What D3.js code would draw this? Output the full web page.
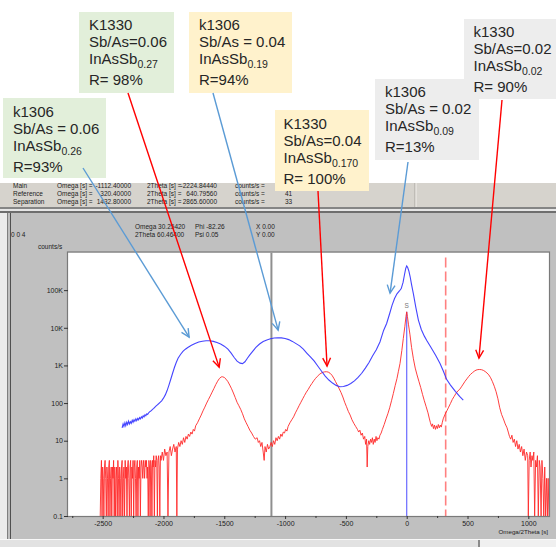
<!DOCTYPE html>
<html><head><meta charset="utf-8">
<script src="https://cdn.jsdelivr.net/npm/d3@7"></script>
<style>body{margin:0;background:#fff}svg{display:block}</style>
</head><body><svg id="c" width="556" height="547"></svg>
<script>
// ---------- DATA ----------
const k1330Profile = [[-2520,0],[-2515,1],[-2510,3],[-2505,0],[-2500,2],[-2495,1],[-2490,0],[-2485,2],[-2480,3],[-2475,1],[-2470,0],[-2465,2],[-2460,1],[-2455,0],[-2450,2],[-2445,3],[-2440,0],[-2435,1],[-2430,2],[-2425,0],[-2420,2],[-2415,1],[-2410,3],[-2405,0],[-2400,2],[-2395,0],[-2390,1],[-2385,2],[-2380,0],[-2375,3],[-2370,1],[-2365,0],[-2360,2],[-2355,1],[-2350,0],[-2345,2],[-2340,3],[-2335,0],[-2330,1],[-2325,2],[-2320,0],[-2315,3],[-2310,1],[-2305,2],[-2300,0],[-2295,2],[-2290,3],[-2285,1],[-2280,0],[-2275,2],[-2270,3],[-2265,0],[-2260,2],[-2255,1],[-2250,3],[-2245,0],[-2240,2],[-2235,3],[-2230,1],[-2225,0],[-2220,2],[-2215,3],[-2210,0],[-2205,2],[-2200,1],[-2195,3],[-2190,0],[-2185,2],[-2180,3],[-2175,2],[-2170,1],[-2165,3],[-2160,2],[-2155,1],[-2150,3],[-2145,2],[-2140,3],[-2135,1],[-2130,2],[-2125,0],[-2120,3],[-2115,2],[-2110,0],[-2105,3],[-2100,2],[-2095,0],[-2090,3],[-2085,2],[-2080,4],[-2075,0],[-2070,3],[-2065,2],[-2060,4],[-2055,3],[-2050,0],[-2045,3],[-2040,4],[-2035,2],[-2030,0],[-2025,4],[-2020,3],[-2010,5],[-2000,3],[-1990,6],[-1980,4],[-1970,5],[-1963,0],[-1955,5],[-1945,7],[-1935,4],[-1925,6],[-1915,8],[-1905,5],[-1895,7],[-1890,0],[-1885,6],[-1875,9],[-1865,7],[-1855,10],[-1845,8],[-1835,12],[-1825,9],[-1815,13],[-1805,11],[-1795,15],[-1785,13],[-1775,17],[-1765,15],[-1755,20],[-1745,18],[-1735,25],[-1720,30],[-1705,38],[-1690,48],[-1675,62],[-1660,78],[-1645,100],[-1630,125],[-1615,155],[-1600,195],[-1585,245],[-1570,310],[-1555,380],[-1540,450],[-1525,495],[-1515,500],[-1500,480],[-1485,430],[-1470,370],[-1455,300],[-1440,240],[-1425,185],[-1410,140],[-1395,105],[-1380,85],[-1365,68],[-1350,52],[-1335,38],[-1320,30],[-1305,24],[-1290,19],[-1275,16],[-1260,13],[-1245,11],[-1230,12],[-1220,9],[-1210,10],[-1200,7],[-1190,9],[-1180,5],[-1172,3],[-1165,7],[-1155,5],[-1145,8],[-1135,6],[-1125,7],[-1115,9],[-1105,7],[-1095,10],[-1085,8],[-1075,12],[-1065,10],[-1055,13],[-1045,11],[-1035,15],[-1025,13],[-1015,17],[-1005,16],[-995,20],[-985,18],[-975,24],[-960,30],[-945,36],[-930,43],[-915,55],[-900,68],[-885,85],[-870,105],[-855,130],[-840,160],[-825,195],[-810,230],[-795,280],[-780,330],[-765,390],[-750,450],[-735,510],[-720,570],[-705,620],[-690,655],[-675,675],[-660,680],[-645,665],[-630,620],[-615,550],[-600,460],[-585,370],[-570,300],[-555,240],[-540,190],[-525,145],[-510,105],[-495,80],[-480,60],[-465,48],[-450,36],[-435,29],[-420,24],[-405,20],[-395,17],[-385,19],[-375,14],[-365,16],[-355,11],[-345,13],[-338,8],[-330,11],[-325,2],[-320,7],[-312,10],[-305,8],[-297,11],[-290,9],[-282,12],[-275,8],[-267,11],[-260,9],[-252,13],[-245,10],[-237,12],[-228,11],[-220,14],[-210,16],[-200,20],[-185,27],[-170,38],[-155,52],[-140,75],[-125,115],[-110,180],[-95,290],[-80,450],[-68,700],[-55,1130],[-40,2500],[-28,5200],[-15,11000],[-6,20000],[0,26500],[6,20000],[15,12000],[27,6500],[40,3000],[55,1500],[70,850],[85,560],[100,380],[115,260],[130,170],[145,115],[160,80],[175,55],[185,40],[195,30],[205,24],[212,28],[220,21],[228,26],[236,20],[244,25],[252,21],[260,27],[268,22],[276,26],[284,23],[292,30],[300,38],[315,50],[330,62],[345,78],[360,98],[375,125],[390,150],[405,180],[420,210],[435,230],[450,270],[465,320],[480,380],[495,440],[510,510],[525,580],[540,640],[555,700],[570,750],[585,775],[600,780],[615,770],[630,740],[645,690],[660,630],[675,560],[690,470],[705,370],[720,280],[735,200],[750,130],[765,75],[780,50],[795,38],[810,28],[825,22],[835,17],[845,13],[855,11],[865,14],[875,9],[885,11],[895,7],[905,10],[915,6],[925,8],[935,5],[945,7],[955,4],[965,6],[975,3],[985,5],[995,4],[1000,0],[1007,3],[1015,5],[1022,2],[1030,4],[1037,3],[1045,5],[1052,0],[1060,3],[1067,2],[1075,4],[1082,0],[1090,3],[1097,2],[1105,0],[1112,3],[1120,1],[1127,0],[1135,2],[1142,0],[1150,1],[1157,0],[1163,1],[1170,0]];

const k1306Profile = [[-2340,22],[-2332,28],[-2325,24],[-2317,30],[-2310,25],[-2302,31],[-2295,27],[-2287,33],[-2280,28],[-2272,32],[-2265,29],[-2257,35],[-2250,31],[-2242,36],[-2235,33],[-2227,38],[-2220,34],[-2212,39],[-2205,36],[-2197,41],[-2190,38],[-2182,43],[-2175,40],[-2167,46],[-2160,43],[-2152,49],[-2145,46],[-2137,52],[-2130,50],[-2120,56],[-2110,60],[-2100,63],[-2090,68],[-2080,72],[-2070,78],[-2060,84],[-2050,90],[-2040,96],[-2030,103],[-2015,115],[-2000,135],[-1985,165],[-1970,215],[-1955,300],[-1940,430],[-1925,620],[-1910,880],[-1895,1200],[-1880,1550],[-1860,1950],[-1840,2350],[-1820,2700],[-1800,3000],[-1770,3450],[-1740,3850],[-1710,4200],[-1680,4400],[-1650,4520],[-1620,4520],[-1590,4350],[-1560,4050],[-1530,3700],[-1500,3250],[-1470,2700],[-1445,2150],[-1420,1650],[-1395,1300],[-1370,1150],[-1350,1120],[-1330,1250],[-1310,1550],[-1290,1900],[-1265,2400],[-1240,3000],[-1210,3700],[-1180,4300],[-1150,4750],[-1120,5100],[-1090,5350],[-1060,5450],[-1030,5400],[-1000,5200],[-970,4850],[-940,4350],[-910,3800],[-880,3300],[-850,2700],[-820,2100],[-790,1650],[-760,1300],[-730,950],[-700,700],[-670,520],[-640,410],[-610,340],[-580,295],[-550,272],[-520,275],[-490,295],[-460,330],[-430,390],[-400,480],[-370,620],[-340,850],[-310,1200],[-280,1800],[-250,2600],[-220,4200],[-190,8500],[-165,13000],[-140,24000],[-120,40000],[-100,60000],[-80,80000],[-60,95000],[-45,110000],[-30,160000],[-18,260000],[-8,380000],[0,440000],[8,400000],[18,320000],[28,230000],[40,140000],[55,80000],[75,35000],[96,16000],[120,9000],[145,6000],[165,4600],[200,3000],[240,1800],[274,1130],[300,720],[329,420],[360,300],[400,205],[435,150],[465,120]];

const xTickValues = [-2500,-2000,-1500,-1000,-500,0,500,1000];
const xMinorTicks = [-2750,-2250,-1750,-1250,-750,-250,250,750];
const yTickValues = [0.1,1,10,100,1000,10000,100000];
const yTickLabels = ["0.1","1","10","100","1K","10K","100K"];
const mainOmega = -1112.4;
const refOmega = 320.4;
const substratePeak = [0, 26500];
const infoLabels = ["Main","Reference","Separation"];
const infoOmega = ["-1112.40000","320.40000","1432.80000"];
const info2Theta = ["-2224.84440","640.79560","2865.60000"];
const infoCounts = ["","41","33"];

const annotations = [
  {lines:["k1306","Sb/As = 0.06","InAsSb","R=93%"], sub:"0.26", kind:"green", arrow:"blue", tip:[-1789,5650]},
  {lines:["K1330","Sb/As=0.06","InAsSb","R= 98%"], sub:"0.27", kind:"green", arrow:"red", tip:[-1542,900]},
  {lines:["k1306","Sb/As = 0.04","InAsSb","R=94%"], sub:"0.19", kind:"orange", arrow:"blue", tip:[-1057,8670]},
  {lines:["K1330","Sb/As=0.04","InAsSb","R= 100%"], sub:"0.170", kind:"orange", arrow:"red", tip:[-655,960]},
  {lines:["k1306","Sb/As = 0.02","InAsSb","R=13%"], sub:"0.09", kind:"gray", arrow:"blue", tip:[-137,83000]},
  {lines:["k1330","Sb/As=0.02","InAsSb","R= 90%"], sub:"0.02", kind:"gray", arrow:"red", tip:[594,1560]}
];

// ---------- LAYOUT ----------
const boxLayout = [
  {x:3,y:98,w:103,h:80,tx:13,ty:116.5, sx:83,sy:168},
  {x:79,y:12,w:95,h:81,tx:89,ty:30, sx:128,sy:93},
  {x:189,y:12,w:103,h:81,tx:199,ty:30, sx:213,sy:93},
  {x:275,y:110,w:94,h:81,tx:283.5,ty:128.5, sx:318,sy:191},
  {x:375,y:79,w:104,h:81,tx:385,ty:97, sx:408,sy:162},
  {x:464,y:19,w:92,h:80,tx:473.5,ty:37, sx:502,sy:100}
];
const boxFill = {green:"#e2efda", orange:"#fff2cc", gray:"#ededed"};
const arrowColor = {blue:"#5b9bd5", red:"#ff0000"};

const svg = d3.select("#c");
const uiFont = "'Liberation Sans', Arial, sans-serif";

// window chrome
svg.append("rect").attr("x",0).attr("y",183).attr("width",556).attr("height",24).attr("fill","#d6d3cd");
svg.append("line").attr("x1",415).attr("x2",415).attr("y1",183).attr("y2",207).attr("stroke","#a8a59f");
svg.append("line").attr("x1",416).attr("x2",416).attr("y1",183).attr("y2",207).attr("stroke","#f2f0ec");
svg.append("rect").attr("x",0).attr("y",207).attr("width",556).attr("height",333).attr("fill","#c0c0c0");
svg.append("rect").attr("x",0).attr("y",207).attr("width",556).attr("height",2).attr("fill","#858585");
svg.append("rect").attr("x",0).attr("y",209).attr("width",556).attr("height",2).attr("fill","#e6e6e6");
svg.append("rect").attr("x",0).attr("y",211).attr("width",556).attr("height",2).attr("fill","#6e6e6e");
svg.append("rect").attr("x",0).attr("y",213).attr("width",7).attr("height",327).attr("fill","#ececec");
svg.append("line").attr("x1",7.5).attr("x2",7.5).attr("y1",213).attr("y2",540).attr("stroke","#808080");
svg.append("line").attr("x1",10.5).attr("x2",10.5).attr("y1",213).attr("y2",540).attr("stroke","#505050");
svg.append("rect").attr("x",0).attr("y",539).attr("width",556).attr("height",8).attr("fill","#e2e2e2");
svg.append("line").attr("x1",0).attr("x2",556).attr("y1",539.5).attr("y2",539.5).attr("stroke","#f8f8f8");
svg.append("rect").attr("x",478).attr("y",540).attr("width",2).attr("height",7).attr("fill","#8a8a8a");
svg.append("rect").attr("x",480).attr("y",540).attr("width",76).attr("height",7).attr("fill","#f0f0f0");

// info panel text
const info = svg.append("g").attr("font-family",uiFont).attr("font-size",6.5).attr("fill","#222");
infoLabels.forEach((lab,i)=>{
  const by = 188 + i*8;
  info.append("text").attr("x",13).attr("y",by).text(lab);
  info.append("text").attr("x",57).attr("y",by).text("Omega [s] =");
  info.append("text").attr("x",131).attr("y",by).attr("text-anchor","end").text(infoOmega[i]);
  info.append("text").attr("x",147).attr("y",by).text("2Theta [s] =");
  info.append("text").attr("x",217).attr("y",by).attr("text-anchor","end").text(info2Theta[i]);
  info.append("text").attr("x",235).attr("y",by).text("counts/s =");
  info.append("text").attr("x",285).attr("y",by).text(infoCounts[i]);
});
const g2 = svg.append("g").attr("font-family",uiFont).attr("font-size",6.5).attr("fill","#222");
g2.append("text").attr("x",11).attr("y",236.5).text("0 0 4");
g2.append("text").attr("x",135).attr("y",228.5).text("Omega 30.25420");
g2.append("text").attr("x",135).attr("y",236.5).text("2Theta 60.46400");
g2.append("text").attr("x",195).attr("y",228.5).text("Phi -82.26");
g2.append("text").attr("x",195).attr("y",236.5).text("Psi 0.05");
g2.append("text").attr("x",256).attr("y",228.5).text("X 0.00");
g2.append("text").attr("x",256).attr("y",236.5).text("Y 0.00");
g2.append("text").attr("x",38).attr("y",248.5).text("counts/s");

// ---------- PLOT ----------
const x = d3.scaleLinear().domain([-2785,1170]).range([68,549]);
const y = d3.scaleLog().domain([0.1,1e6]).range([516,252.5]);
const [px0,px1] = x.range(), [py0,py1] = y.range();

svg.append("rect").attr("x",px0).attr("y",py1).attr("width",px1-px0).attr("height",py0-py1).attr("fill","#fff");
svg.append("clipPath").attr("id","pc").append("rect").attr("x",px0).attr("y",py1).attr("width",px1-px0).attr("height",py0-py1);
const plot = svg.append("g").attr("clip-path","url(#pc)");

// markers
plot.append("line").attr("x1",x(mainOmega)).attr("x2",x(mainOmega)).attr("y1",py1).attr("y2",py0)
  .attr("stroke","#8f8f8f").attr("stroke-width",2);
plot.append("line").attr("x1",x(refOmega)).attr("x2",x(refOmega)).attr("y1",py1+5).attr("y2",py0)
  .attr("stroke","#ff8080").attr("stroke-width",1.6).attr("stroke-dasharray","10,4");
plot.append("line").attr("x1",x(substratePeak[0])).attr("x2",x(substratePeak[0])).attr("y1",y(substratePeak[1])).attr("y2",py0)
  .attr("stroke","#6a6aff").attr("stroke-width",1.2);

const line = d3.line().x(d=>x(d[0])).y(d=>y(Math.max(d[1],0.1)));
plot.append("path").datum(k1330Profile).attr("d",line).attr("fill","none")
  .attr("stroke","#ff2a2a").attr("stroke-width",1).attr("stroke-opacity",0.9);
plot.append("path").datum(k1306Profile).attr("d",line).attr("fill","none")
  .attr("stroke","#3030ff").attr("stroke-width",1.1).attr("stroke-opacity",0.9);

svg.append("text").attr("x",x(substratePeak[0])).attr("y",y(substratePeak[1])-4).attr("text-anchor","middle")
  .attr("font-family",uiFont).attr("font-size",6.5).attr("fill","#777").text("S");

svg.append("rect").attr("x",px0-0.5).attr("y",py1-0.5).attr("width",px1-px0+1).attr("height",py0-py1+1)
  .attr("fill","none").attr("stroke","#7a7a7a").attr("stroke-width",1.2);

// axes
const xAxis = svg.append("g").attr("transform",`translate(0,${py0})`)
  .call(d3.axisBottom(x).tickValues(xTickValues).tickSize(3).tickPadding(2).tickFormat(d=>d));
const xMinor = svg.append("g").attr("transform",`translate(0,${py0})`)
  .call(d3.axisBottom(x).tickValues(xMinorTicks).tickSize(2).tickFormat(""));
const yAxis = svg.append("g").attr("transform",`translate(${px0},0)`)
  .call(d3.axisLeft(y).tickValues(yTickValues).tickSize(4).tickPadding(1).tickFormat((d,i)=>yTickLabels[i]));
[xAxis,xMinor,yAxis].forEach(a=>{
  a.select(".domain").remove();
  a.selectAll("line").attr("stroke","#333");
  a.selectAll("text").attr("font-family",uiFont).attr("font-size",7).attr("fill","#222");
});
svg.append("text").attr("x",548).attr("y",533.5).attr("text-anchor","end")
  .attr("font-family",uiFont).attr("font-size",6.2).attr("fill","#222").text("Omega/2Theta [s]");

// ---------- ANNOTATIONS ----------
const annoFont = "'Liberation Sans', Arial, sans-serif";
annotations.forEach((a,i)=>{
  const L = boxLayout[i];
  svg.append("rect").attr("x",L.x).attr("y",L.y).attr("width",L.w).attr("height",L.h).attr("fill",boxFill[a.kind]);
  const t = svg.append("g").attr("font-family",annoFont).attr("font-size",15).attr("fill","#262626");
  const yy = [L.ty, L.ty+17, L.ty+34, L.ty+55];
  a.lines.forEach((s,j)=>{
    const te = t.append("text").attr("x",L.tx).attr("y",yy[j]);
    te.append("tspan").text(s);
    if (j===2) te.append("tspan").attr("font-size",10.5).attr("dy",4).text(a.sub);
  });
});
annotations.forEach((a,i)=>{
  const L = boxLayout[i];
  const tx = x(a.tip[0]), ty = y(a.tip[1]);
  const col = arrowColor[a.arrow];
  svg.append("line").attr("x1",L.sx).attr("y1",L.sy).attr("x2",tx).attr("y2",ty)
    .attr("stroke",col).attr("stroke-width",1.4);
  const ang = Math.atan2(ty-L.sy, tx-L.sx), len = 9, phi = 0.45;
  const p1 = [tx-len*Math.cos(ang-phi), ty-len*Math.sin(ang-phi)];
  const p2 = [tx-len*Math.cos(ang+phi), ty-len*Math.sin(ang+phi)];
  svg.append("path").attr("d",`M${p1[0]},${p1[1]}L${tx},${ty}L${p2[0]},${p2[1]}`)
    .attr("fill","none").attr("stroke",col).attr("stroke-width",1.4);
});
</script></body></html>
